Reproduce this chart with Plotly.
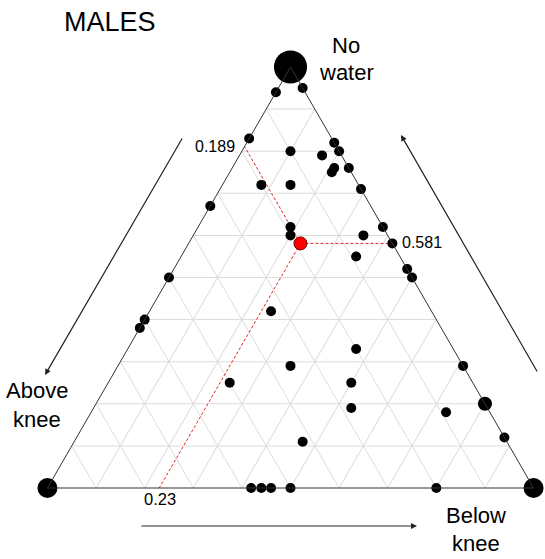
import numpy as np
import plotly.graph_objects as go

# ---- data: proportions (No water, Above knee, Below knee) ----
no_water   = [0.94, 0.95, 0.83, 0.80, 0.82, 0.80, 0.79, 0.76, 0.75, 0.76, 0.71, 0.72, 0.72, 0.67,
              0.62, 0.62, 0.60, 0.60, 0.581, 0.55, 0.52, 0.50, 0.50, 0.40, 0.38, 0.42, 0.33, 0.29,
              0.25, 0.25, 0.29, 0.19, 0.20, 0.18, 0.12, 0.11, 0.0, 0.0, 0.0, 0.0, 0.0,
              1.0, 0.0, 0.0]
above_knee = [0.06, 0.00, 0.17, 0.10, 0.00, 0.00, 0.04, 0.03, 0.04, 0.00, 0.00, 0.20, 0.14, 0.33,
              0.00, 0.19, 0.20, 0.05, 0.00, 0.09, 0.00, 0.00, 0.50, 0.60, 0.62, 0.33, 0.20, 0.355,
              0.25, 0.50, 0.00, 0.28, 0.00, 0.09, 0.00, 0.42, 0.581, 0.56, 0.54, 0.50, 0.20,
              0.0, 1.0, 0.0]
below_knee = [0.00, 0.05, 0.00, 0.10, 0.18, 0.20, 0.17, 0.21, 0.21, 0.24, 0.29, 0.08, 0.14, 0.00,
              0.38, 0.19, 0.20, 0.35, 0.419, 0.36, 0.48, 0.50, 0.00, 0.00, 0.00, 0.25, 0.47, 0.355,
              0.50, 0.25, 0.71, 0.53, 0.80, 0.73, 0.88, 0.47, 0.419, 0.44, 0.46, 0.50, 0.80,
              0.0, 0.0, 1.0]
counts = [1] * 41 + [11, 4, 4]
counts[32] = 2

# highlighted (mean) point
mean_point = {"no_water": 0.581, "above_knee": 0.189, "below_knee": 0.23}

W, H = 545, 559
L, R, T, B = 47, 11, 67, 71
PW, PH = W - L - R, H - T - B


def pos(px, py):
    return (px - L) / PW, (H - B - py) / PH


fig = go.Figure()

# dashed guide lines from the mean point to each edge
mw, ma, mb = mean_point["no_water"], mean_point["above_knee"], mean_point["below_knee"]
guides = [
    ([mw, mw], [ma, 0.0], [mb, 1 - mw]),
    ([mw, 1 - ma], [ma, ma], [mb, 0.0]),
    ([mw, 0.0], [ma, 1 - mb], [mb, mb]),
]
for a, b, c in guides:
    fig.add_trace(go.Scatterternary(a=a, b=b, c=c, mode="lines",
                                    line=dict(color="rgb(225,40,40)", width=1, dash="3px,2px"),
                                    hoverinfo="skip", showlegend=False, cliponaxis=False))

sizes = [10 * np.sqrt(n) for n in counts]
fig.add_trace(go.Scatterternary(a=no_water, b=above_knee, c=below_knee, mode="markers",
                                marker=dict(color="black", size=sizes, opacity=1, line=dict(width=0)),
                                showlegend=False, cliponaxis=False))

fig.add_trace(go.Scatterternary(a=[mw], b=[ma], c=[mb], mode="markers",
                                marker=dict(color="#ff0000", size=13, opacity=1,
                                            line=dict(color="#700000", width=1)),
                                showlegend=False, cliponaxis=False))

axis_style = dict(showticklabels=False, ticks="", showgrid=True, gridcolor="#dcdcdc", gridwidth=1,
                  tick0=0, dtick=0.1, linecolor="#333333", linewidth=1, showline=True, title=dict(text=""))

fig.update_layout(
    width=W, height=H,
    margin=dict(l=L, r=R, t=T, b=B),
    paper_bgcolor="white",
    font=dict(family="Liberation Sans, Arial, sans-serif", color="black"),
    ternary=dict(sum=1, bgcolor="white", aaxis=axis_style, baxis=axis_style, caxis=axis_style),
    showlegend=False,
)

FONT = "Liberation Sans, Arial, sans-serif"


def text(s, px, py, size, xanchor="center"):
    x, y = pos(px, py)
    fig.add_annotation(x=x, y=y, xref="paper", yref="paper", text=s, showarrow=False,
                       xanchor=xanchor, yanchor="middle", font=dict(size=size, family=FONT, color="black"))


def arrow(hx, hy, tx, ty):
    x, y = pos(hx, hy)
    fig.add_annotation(x=x, y=y, xref="paper", yref="paper", text="", showarrow=True,
                       ax=tx - hx, ay=ty - hy, arrowhead=2, arrowsize=1, arrowwidth=1.2,
                       arrowcolor="#222222")


text("MALES", 110, 22, 27)
text("No", 346, 45, 22)
text("water", 346, 72, 22)
text("Above", 37, 390, 22)
text("knee", 37, 419, 22)
text("Below", 476, 515, 22)
text("knee", 476, 543, 22)
text("0.189", 237, 146, 16, xanchor="right")
text("0.581", 400, 243, 16, xanchor="left")
text("0.23", 160, 499, 16.5)

arrow(45, 375, 183, 137)
arrow(401, 135, 538, 373)
arrow(417, 526, 140, 526)

fig.write_html("out.html", config={"displayModeBar": False},
               post_script="document.body.style.margin='0';")
